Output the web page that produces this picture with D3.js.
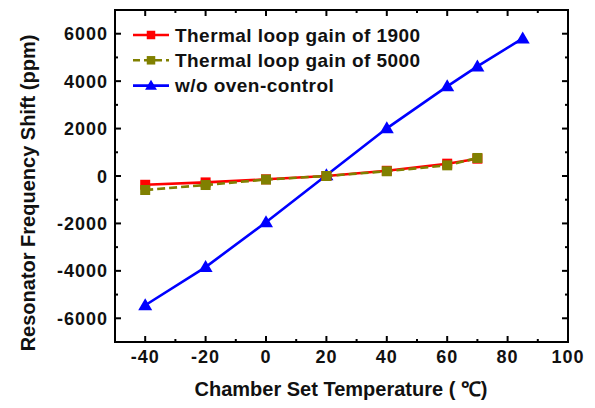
<!DOCTYPE html>
<html>
<head>
<meta charset="utf-8">
<script src="https://cdn.jsdelivr.net/npm/d3@7"></script>
<style>
  body { margin: 0; background: #fff; }
  text { font-family: Arial, "Liberation Sans", sans-serif; font-weight: bold; fill: #111; }
</style>
</head>
<body>
<svg id="chart"></svg>
<script>
// data
const temps1900 = [-40, -20, 0, 20, 40, 60, 70];
const gain1900 = [-370, -270, -140, 0, 220, 520, 730];
const temps5000 = [-40, -20, 0, 20, 40, 60, 70];
const gain5000 = [-590, -380, -150, 0, 200, 450, 760];
const tempsOven = [-40, -20, 0, 20, 40, 60, 70, 85];
const noOven = [-5450, -3840, -1950, 30, 2010, 3780, 4620, 5800];
const xTicks = [-40, -20, 0, 20, 40, 60, 80, 100];
const yTicks = [-6000, -4000, -2000, 0, 2000, 4000, 6000];

const W = 595, H = 408;
const margin = {top: 10, right: 27, bottom: 66, left: 115};
const width = W - margin.left - margin.right;
const height = H - margin.top - margin.bottom;

const svg = d3.select('#chart').attr('width', W).attr('height', H);
const g = svg.append('g').attr('transform', `translate(${margin.left},${margin.top})`);

const x = d3.scaleLinear().domain([-50, 100]).range([0, width]);
const y = d3.scaleLinear().domain([-7000, 7000]).range([height, 0]);

// frame
g.append('rect').attr('width', width).attr('height', height)
  .attr('fill', 'none').attr('stroke', '#000').attr('stroke-width', 2);

// inward ticks on all four sides
const xMinor = d3.range(-40, 100, 10).filter(v => v % 20 !== 0);
const yMinor = d3.range(-7000, 7001, 1000).filter(v => v % 2000 !== 0);

function tickLines(vals, len, isX) {
  vals.forEach(v => {
    if (isX) {
      g.append('line').attr('x1', x(v)).attr('x2', x(v)).attr('y1', height).attr('y2', height - len)
        .attr('stroke', '#000').attr('stroke-width', 2);
      g.append('line').attr('x1', x(v)).attr('x2', x(v)).attr('y1', 0).attr('y2', len)
        .attr('stroke', '#000').attr('stroke-width', 2);
    } else {
      g.append('line').attr('y1', y(v)).attr('y2', y(v)).attr('x1', 0).attr('x2', len)
        .attr('stroke', '#000').attr('stroke-width', 2);
      g.append('line').attr('y1', y(v)).attr('y2', y(v)).attr('x1', width).attr('x2', width - len)
        .attr('stroke', '#000').attr('stroke-width', 2);
    }
  });
}
tickLines(xTicks, 6, true);
tickLines(xMinor, 3, true);
tickLines(yTicks, 6, false);
tickLines(yMinor, 3, false);

// tick labels
g.selectAll('.xl').data(xTicks).enter().append('text')
  .attr('x', d => x(d)).attr('y', height + 21)
  .attr('text-anchor', 'middle').attr('font-size', 18).attr('letter-spacing', 1).text(d => d);
g.selectAll('.yl').data(yTicks).enter().append('text')
  .attr('x', -7).attr('y', d => y(d) + 6.5)
  .attr('text-anchor', 'end').attr('font-size', 18).attr('letter-spacing', 1).text(d => d);

// axis titles
svg.append('text').attr('x', 341).attr('y', 396)
  .attr('text-anchor', 'middle').attr('font-size', 20).text('Chamber Set Temperature ( \u2103)');
svg.append('text').attr('transform', 'translate(35,193) rotate(-90)')
  .attr('text-anchor', 'middle').attr('font-size', 20).text('Resonator Frequency Shift (ppm)');

const line = d3.line().x(d => x(d[0])).y(d => y(d[1]));

const series = [
  {name: 'Thermal loop gain of 1900', xs: temps1900, ys: gain1900, color: '#ff0000', dash: null, marker: 'square'},
  {name: 'Thermal loop gain of 5000', xs: temps5000, ys: gain5000, color: '#808000', dash: '8,4', marker: 'square'},
  {name: 'w/o oven-control', xs: tempsOven, ys: noOven, color: '#0000ff', dash: null, marker: 'triangle'}
];

function marker(sel, type, color, s) {
  s = s || 1;
  if (type === 'square') {
    sel.append('rect').attr('x', -5 * s).attr('y', -5 * s).attr('width', 10 * s).attr('height', 10 * s).attr('fill', color);
  } else {
    sel.append('path').attr('d', `M0,${-7 * s}L${7 * s},${5 * s}L${-7 * s},${5 * s}Z`).attr('fill', color);
  }
}

[series[2], series[0], series[1]].forEach(s => {
  const pts = s.xs.map((v, i) => [v, s.ys[i]]);
  g.append('path').datum(pts).attr('d', line)
    .attr('fill', 'none').attr('stroke', s.color).attr('stroke-width', 2.6)
    .attr('stroke-dasharray', s.dash);
  pts.forEach(p => {
    const m = g.append('g').attr('transform', `translate(${x(p[0])},${y(p[1])})`);
    marker(m, s.marker, s.color);
  });
});

// legend
const legend = g.append('g').attr('transform', 'translate(18,25)');
series.forEach((s, i) => {
  const row = legend.append('g').attr('transform', `translate(0,${i * 25.3})`);
  row.append('line').attr('x1', 0).attr('x2', 36).attr('y1', 0).attr('y2', 0)
    .attr('stroke', s.color).attr('stroke-width', 2.6).attr('stroke-dasharray', s.dash ? '7,4' : null);
  const m = row.append('g').attr('transform', 'translate(18,0)');
  marker(m, s.marker, s.color, 0.85);
  row.append('text').attr('x', 42).attr('y', 6.5).attr('font-size', 19).attr('letter-spacing', 0.45).text(s.name);
});
</script>
</body>
</html>
